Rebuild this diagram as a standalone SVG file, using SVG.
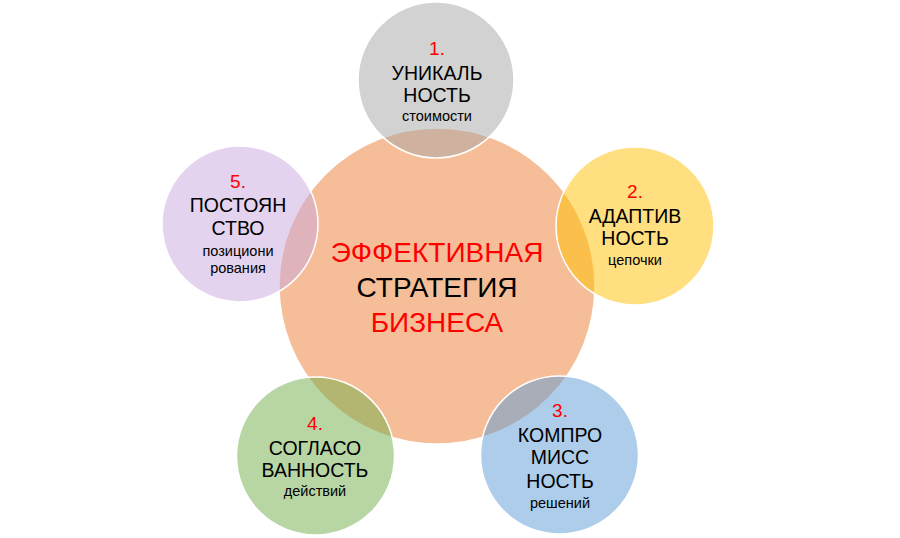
<svg xmlns="http://www.w3.org/2000/svg" width="900" height="538" viewBox="0 0 900 538">
<style>
.c{stroke:#ffffff;stroke-width:1.5;fill-opacity:0.5}
text{font-family:"Liberation Sans",Arial,sans-serif;text-anchor:middle;fill:#000}
.n{fill:#ff0000;font-size:19px}
.m{font-size:19.5px}
.s{font-size:14.5px}
.big{font-size:28px}
.r{fill:#ff0000}
</style>
<rect width="900" height="538" fill="#ffffff"/>
<g id="center">
<circle class="c" cx="437" cy="286" r="158" fill="#ED7D31"/>
<text class="big r" x="437" y="262">ЭФФЕКТИВНАЯ</text>
<text class="big" x="437" y="297">СТРАТЕГИЯ</text>
<text class="big r" x="437" y="332">БИЗНЕСА</text>
</g>
<g id="node1">
<circle class="c" cx="436" cy="80" r="78" fill="#A5A5A5"/>
<text class="n" x="437" y="55">1.</text>
<text class="m" x="437" y="80">УНИКАЛЬ</text>
<text class="m" x="437" y="102">НОСТЬ</text>
<text class="s" x="437" y="121">стоимости</text>
</g>
<g id="node2">
<circle class="c" cx="635" cy="226" r="79" fill="#FFC000"/>
<text class="n" x="635" y="198">2.</text>
<text class="m" x="635" y="223">АДАПТИВ</text>
<text class="m" x="635" y="245">НОСТЬ</text>
<text class="s" x="635" y="265">цепочки</text>
</g>
<g id="node3">
<circle class="c" cx="559.5" cy="455" r="79" fill="#5B9BD5"/>
<text class="n" x="560" y="417">3.</text>
<text class="m" x="560" y="442">КОМПРО</text>
<text class="m" x="560" y="464">МИСС</text>
<text class="m" x="560" y="488">НОСТЬ</text>
<text class="s" x="560" y="508">решений</text>
</g>
<g id="node4">
<circle class="c" cx="315.5" cy="456" r="79" fill="#70AD47"/>
<text class="n" x="315" y="430">4.</text>
<text class="m" x="315" y="455">СОГЛАСО</text>
<text class="m" x="315" y="477">ВАННОСТЬ</text>
<text class="s" x="315" y="496">действий</text>
</g>
<g id="node5">
<circle class="c" cx="240" cy="224" r="78" fill="#C8A8E0"/>
<text class="n" x="238" y="188">5.</text>
<text class="m" x="238" y="212">ПОСТОЯН</text>
<text class="m" x="238" y="235">СТВО</text>
<text class="s" x="238" y="256">позициони</text>
<text class="s" x="238" y="273">рования</text>
</g>
<g id="connectors"></g>
</svg>
